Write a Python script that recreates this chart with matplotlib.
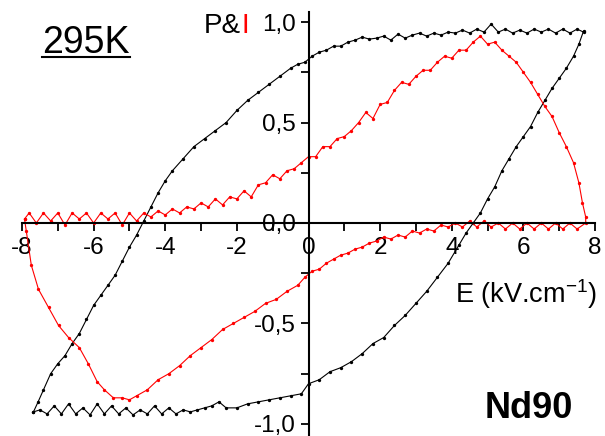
import matplotlib
matplotlib.use('Agg')
from matplotlib import pyplot as plt
from matplotlib.lines import Line2D

plt.rcParams['font.family'] = ['Liberation Sans', 'DejaVu Sans']
plt.rcParams['mathtext.fontset'] = 'custom'
plt.rcParams['mathtext.rm'] = 'Liberation Sans'

# polarisation loop, upper branch (E going down)
e_p_down = [7.68, 7.5, 7.3, 7.1, 6.9, 6.7, 6.5, 6.3, 6.1, 5.9, 5.7, 5.5, 5.3, 5.1, 4.9,
            4.7, 4.5, 4.3, 4.1, 3.9, 3.7, 3.5, 3.3, 3.1, 2.9, 2.7, 2.5, 2.3, 2.1, 1.9,
            1.7, 1.5, 1.3, 1.1, 0.9, 0.7, 0.5, 0.3, 0.1, -0.1, -0.3, -0.5, -0.8, -1.1,
            -1.4, -1.7, -2.0, -2.3, -2.6, -2.9, -3.2, -3.5, -3.8, -4.0, -4.2, -4.4, -4.6,
            -4.8, -5.0, -5.2, -5.4, -5.6, -5.8, -6.0, -6.2, -6.4, -6.6, -6.8, -7.0, -7.2,
            -7.4, -7.55, -7.68]
p_down = [0.95, 0.965, 0.945, 0.965, 0.945, 0.965, 0.95, 0.965, 0.945, 0.96, 0.945, 0.965,
          0.95, 0.99, 0.95, 0.965, 0.945, 0.96, 0.945, 0.95, 0.935, 0.945, 0.93, 0.945,
          0.935, 0.92, 0.94, 0.91, 0.93, 0.92, 0.915, 0.925, 0.91, 0.9, 0.88, 0.88, 0.86,
          0.85, 0.83, 0.8, 0.79, 0.77, 0.73, 0.69, 0.65, 0.61, 0.56, 0.5, 0.46, 0.42, 0.38,
          0.32, 0.26, 0.21, 0.15, 0.08, 0.01, -0.06, -0.12, -0.19, -0.26, -0.31, -0.36,
          -0.41, -0.48, -0.55, -0.6, -0.66, -0.7, -0.75, -0.83, -0.89, -0.94]

# polarisation loop, lower branch (E going up)
e_p_up = [-7.68, -7.5, -7.3, -7.1, -6.9, -6.7, -6.5, -6.3, -6.1, -5.9, -5.7, -5.5, -5.3,
          -5.1, -4.9, -4.7, -4.5, -4.3, -4.1, -3.9, -3.7, -3.5, -3.3, -3.1, -2.9, -2.7,
          -2.5, -2.3, -2.0, -1.7, -1.4, -1.1, -0.8, -0.5, -0.2, 0.0, 0.3, 0.6, 0.9, 1.2,
          1.5, 1.8, 2.1, 2.4, 2.7, 3.0, 3.3, 3.6, 3.9, 4.2, 4.4, 4.6, 4.8, 5.0, 5.2, 5.4,
          5.6, 5.8, 6.0, 6.2, 6.4, 6.6, 6.8, 7.0, 7.2, 7.4, 7.55, 7.68]
p_up = [-0.94, -0.93, -0.95, -0.91, -0.95, -0.9, -0.95, -0.92, -0.955, -0.9, -0.95, -0.91,
        -0.95, -0.92, -0.955, -0.93, -0.95, -0.91, -0.95, -0.92, -0.95, -0.93, -0.94,
        -0.93, -0.92, -0.91, -0.89, -0.92, -0.92, -0.9, -0.89, -0.88, -0.87, -0.86, -0.85,
        -0.8, -0.78, -0.74, -0.72, -0.69, -0.65, -0.6, -0.57, -0.51, -0.46, -0.4, -0.34,
        -0.27, -0.2, -0.11, -0.05, 0.0, 0.05, 0.12, 0.18, 0.26, 0.32, 0.38, 0.43, 0.48,
        0.55, 0.61, 0.67, 0.72, 0.77, 0.83, 0.89, 0.955]

# current loop, E going up
e_i_up = [-7.93, -7.8, -7.6, -7.4, -7.2, -7.0, -6.8, -6.6, -6.4, -6.2, -6.0, -5.8, -5.6,
          -5.4, -5.2, -5.0, -4.8, -4.6, -4.4, -4.2, -4.0, -3.8, -3.6, -3.4, -3.2, -3.0,
          -2.8, -2.6, -2.4, -2.2, -2.0, -1.8, -1.6, -1.4, -1.2, -1.0, -0.8, -0.6, -0.4,
          -0.2, 0.0, 0.2, 0.4, 0.6, 0.8, 1.0, 1.2, 1.4, 1.6, 1.8, 2.0, 2.2, 2.4, 2.6, 2.8,
          3.0, 3.2, 3.4, 3.6, 3.8, 4.0, 4.2, 4.4, 4.6, 4.8, 5.0, 5.2, 5.4, 5.6, 5.8, 6.0,
          6.2, 6.4, 6.6, 6.8, 7.0, 7.2, 7.4, 7.55, 7.65, 7.74]
i_up = [0.02, 0.05, 0.0, 0.05, 0.01, 0.05, -0.01, 0.05, 0.02, 0.05, 0.0, 0.05, 0.02, 0.05,
        -0.01, 0.05, 0.01, 0.05, 0.03, 0.06, 0.04, 0.07, 0.05, 0.08, 0.07, 0.1, 0.08, 0.12,
        0.09, 0.13, 0.12, 0.16, 0.13, 0.19, 0.2, 0.24, 0.22, 0.26, 0.27, 0.3, 0.33, 0.33,
        0.38, 0.38, 0.42, 0.43, 0.46, 0.5, 0.55, 0.52, 0.59, 0.6, 0.66, 0.7, 0.69, 0.73,
        0.76, 0.76, 0.8, 0.83, 0.82, 0.86, 0.86, 0.9, 0.93, 0.89, 0.9, 0.86, 0.83, 0.8,
        0.75, 0.7, 0.64, 0.58, 0.53, 0.45, 0.38, 0.3, 0.2, 0.1, 0.03]

# current loop, E going down
e_i_down = [7.74, 7.5, 7.3, 7.1, 6.9, 6.7, 6.5, 6.3, 6.1, 5.9, 5.7, 5.5, 5.3, 5.1, 4.9,
            4.7, 4.5, 4.3, 4.1, 3.9, 3.7, 3.5, 3.3, 3.1, 2.9, 2.7, 2.5, 2.3, 2.1, 1.9, 1.7,
            1.5, 1.3, 1.1, 0.9, 0.7, 0.5, 0.3, 0.1, -0.1, -0.3, -0.6, -0.9, -1.2, -1.5,
            -1.8, -2.1, -2.4, -2.7, -3.0, -3.3, -3.6, -3.9, -4.2, -4.5, -4.8, -5.0, -5.2,
            -5.45, -5.7, -5.9, -6.15, -6.4, -6.7, -6.98, -7.26, -7.54, -7.74, -7.88, -7.93]
i_down = [0.0, -0.03, 0.0, -0.03, 0.0, -0.03, 0.0, -0.03, 0.0, -0.03, 0.0, -0.03, 0.0,
          -0.02, 0.01, -0.02, 0.01, -0.02, 0.0, -0.02, -0.01, -0.04, -0.03, -0.05, -0.04,
          -0.07, -0.06, -0.08, -0.07, -0.09, -0.1, -0.12, -0.13, -0.15, -0.16, -0.18, -0.2,
          -0.23, -0.24, -0.27, -0.31, -0.34, -0.38, -0.4, -0.44, -0.47, -0.5, -0.53, -0.58,
          -0.62, -0.66, -0.71, -0.75, -0.78, -0.83, -0.86, -0.88, -0.87, -0.87, -0.83,
          -0.79, -0.7, -0.62, -0.57, -0.51, -0.42, -0.33, -0.21, -0.04, 0.02]

x_ticks = [-8, -6, -4, -2, 0, 2, 4, 6, 8]
x_labels = ['-8', '-6', '-4', '-2', '0', '2', '4', '6', '8']
y_ticks = [-1.0, -0.5, 0.0, 0.5, 1.0]
y_labels = ['-1,0', '-0,5', '0,0', '0,5', '1,0']

W, H = 605, 436
fig = plt.figure(figsize=(W / 100, H / 100), dpi=100)
ax = fig.add_axes([22 / W, 0, 573 / W, 424 / H])

ax.plot(e_p_down + e_p_up, p_down + p_up, color='black', lw=0.8,
        marker='o', ms=2.4, mew=0)
ax.plot(e_i_up + e_i_down, i_up + i_down, color='red', lw=0.8,
        marker='o', ms=2.4, mew=0)

ax.set_xlim(-8, 8)
ax.set_ylim(-1.06, 1.05)

for s in ['top', 'right']:
    ax.spines[s].set_visible(False)
ax.spines['left'].set_position(('data', 0))
ax.spines['bottom'].set_position(('data', 0))
ax.spines['left'].set_linewidth(1.5)
ax.spines['bottom'].set_linewidth(1.5)

ax.set_xticks(x_ticks)
ax.set_xticklabels(x_labels)
ax.set_xticks([-7, -5, -3, -1, 1, 3, 5, 7], minor=True)
ax.set_yticks(y_ticks)
ax.set_yticklabels(y_labels)
ax.set_yticks([-0.75, -0.25, 0.25, 0.75], minor=True)
ax.tick_params(which='both', direction='out', length=6, width=1.3, labelsize=17.5)
ax.tick_params(axis='x', pad=4)
ax.tick_params(axis='y', pad=3)
ax.patch.set_visible(False)

fig.text(42 / W, 1 - 53 / H, '295K', fontsize=27, va='baseline', ha='left')
fig.add_artist(Line2D([42 / W, 130 / W], [1 - 57 / H, 1 - 57 / H], color='black', lw=1.5))
fig.text(241 / W, 1 - 33 / H, 'P&', fontsize=20, va='baseline', ha='right')
fig.text(242 / W, 1 - 33 / H, 'I', fontsize=20, va='baseline', ha='left', color='red')
fig.text(455 / W, 1 - 303 / H, 'E (kV.cm$^{\\mathregular{-1}}$)', fontsize=19.5,
         va='baseline', ha='left')
fig.text(485 / W, 1 - 418 / H, 'Nd90', fontsize=26, fontweight='bold',
         va='baseline', ha='left')

fig.savefig('out.png', dpi=100)
